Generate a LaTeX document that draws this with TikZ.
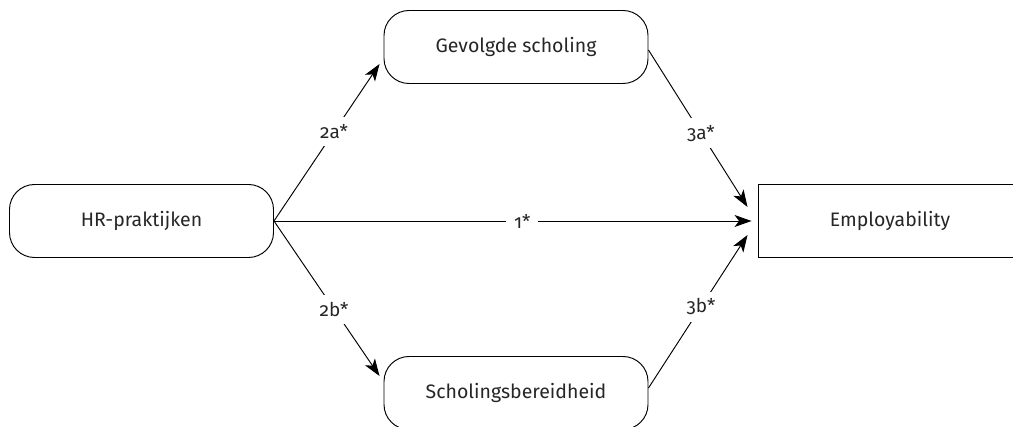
\documentclass[tikz,border=0pt]{standalone}
\usepackage{fontspec}
\setmainfont{Fira Sans}[Numbers=OldStyle]
\usetikzlibrary{arrows.meta,calc}
\begin{document}
\begin{tikzpicture}[x=1pt,y=-1pt,
  every node/.style={font=\fontsize{19.5}{22}\selectfont, text=black!85},
  pill/.style={draw, line width=0.95pt, rounded corners=25pt, minimum width=264pt, minimum height=73pt, inner sep=0pt},
  plainbox/.style={draw, line width=0.95pt, minimum width=264pt, minimum height=73pt, inner sep=0pt},
  link/.style={line width=0.95pt, -{Stealth[length=17pt,width=12pt,inset=4.5pt]}},
  tag/.style={fill=white, inner xsep=8pt, inner ysep=7pt, font=\fontsize{19}{20}\selectfont}]
\useasboundingbox (0,0) rectangle (1013,427);
\clip (0,0) rectangle (1013,427);

\node[pill] (hr) at (141.5,221) {HR-praktijken};
\node[pill] (gs) at (516,47) {Gevolgde scholing};
\node[pill] (sb) at (516,393) {Scholingsbereidheid};
\node[plainbox] (emp) at (890,221) {Employability};

\coordinate (gsIn) at ($(gs.west)+(-4,17)$);
\coordinate (sbIn) at ($(sb.west)+(-4,-17)$);
\coordinate (gsOut) at ($(gs.east)+(0,3)$);
\coordinate (sbOut) at ($(sb.east)+(0,-5)$);
\coordinate (empA) at ($(emp.west)+(-10,-14)$);
\coordinate (empB) at ($(emp.west)+(-10,14)$);
\coordinate (empC) at ($(emp.west)+(-6,0)$);

\draw[link] (hr.east) -- node[tag, pos=0.57] {2a*} (gsIn);
\draw[link] (hr.east) -- node[tag, pos=0.57] {2b*} (sbIn);
\draw[link] (hr.east) -- node[tag, pos=0.52] {1*} (empC);
\draw[link] (gsOut) -- node[tag, pos=0.53] {3a*} (empA);
\draw[link] (sbOut) -- node[tag, pos=0.53] {3b*} (empB);
\end{tikzpicture}
\end{document}
